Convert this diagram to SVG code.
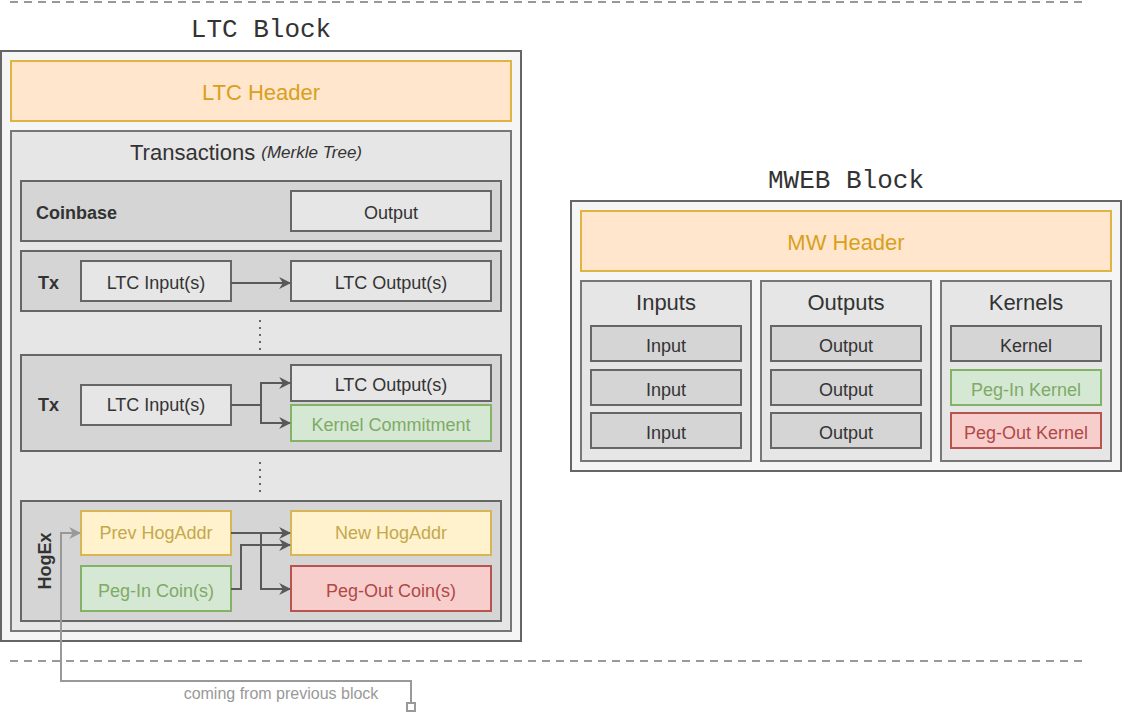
<svg xmlns="http://www.w3.org/2000/svg" width="1122" height="721" viewBox="0 0 1122 721">
<style>
text{font-family:"Liberation Sans",Arial,sans-serif;text-anchor:middle;dominant-baseline:central}
.mono{font-family:"Liberation Mono",monospace;font-size:26px;fill:#333}
.blk{fill:#f5f5f5;stroke:#666;stroke-width:2}
.hdr{fill:#ffe6cc;stroke:#e0b440;stroke-width:2}
.hdrt{fill:#d9a01c;font-size:22px}
.sec{fill:#e6e6e6;stroke:#777;stroke-width:2}
.grp{fill:#d5d5d5;stroke:#666;stroke-width:2}
.box{fill:#e6e6e6;stroke:#666;stroke-width:2}
.gbox{fill:#d5e8d4;stroke:#82b366;stroke-width:2}
.ybox{fill:#fff2cc;stroke:#d6b656;stroke-width:2}
.rbox{fill:#f8cecc;stroke:#b85450;stroke-width:2}
.t{font-size:18px;fill:#333}
.gt{font-size:18px;fill:#7faa66}
.yt{font-size:18px;fill:#c4a84c}
.rt{font-size:18px;fill:#b04848}
.lbl{font-size:18px;font-weight:bold;fill:#333;text-anchor:start}
.c{fill:none;stroke:#595959;stroke-width:2}
.cg{fill:none;stroke:#999;stroke-width:2}
.dash{stroke:#999;stroke-width:2;stroke-dasharray:8 6}
</style>
<defs>
<marker id="a" viewBox="0 0 10 10" refX="9" refY="5" markerWidth="6" markerHeight="6" orient="auto"><path d="M0,0L10,5L0,10L3,5z" fill="#595959"/></marker>
<marker id="ag" viewBox="0 0 10 10" refX="9" refY="5" markerWidth="6" markerHeight="6" orient="auto"><path d="M0,0L10,5L0,10L3,5z" fill="#999"/></marker>
</defs>
<line class="dash" x1="10" y1="2" x2="1082" y2="2"/>
<line class="dash" x1="10" y1="661" x2="1082" y2="661"/>
<g id="ltc-block">
<text class="mono" x="261" y="30">LTC Block</text>
<rect class="blk" x="1" y="51" width="520" height="590"/>
</g>
<g id="ltc-header"><rect class="hdr" x="11" y="61" width="500" height="60"/><text class="hdrt" x="261" y="92">LTC Header</text></g>
<g id="transactions"><rect class="sec" x="11" y="131" width="500" height="500"/><text x="246" y="152" style="font-size:22px;fill:#333">Transactions <tspan style="font-style:italic;font-size:17px">(Merkle Tree)</tspan></text></g>
<g id="coinbase"><rect class="grp" x="21" y="181" width="480" height="60"/><text class="lbl" x="36" y="213">Coinbase</text></g>
<g id="coinbase-output"><rect class="box" x="291" y="191" width="200" height="40"/><text class="t" x="391" y="213">Output</text></g>
<g id="tx1"><rect class="grp" x="21" y="251" width="480" height="60"/><text class="lbl" x="38" y="283">Tx</text></g>
<g id="tx1-in"><rect class="box" x="81" y="261" width="150" height="40"/><text class="t" x="156" y="283">LTC Input(s)</text></g>
<g id="tx1-out"><rect class="box" x="291" y="261" width="200" height="40"/><text class="t" x="391" y="283">LTC Output(s)</text></g>
<g id="dots1"><line x1="260" y1="320" x2="260" y2="350" stroke="#666" stroke-width="2" stroke-dasharray="2 5"/></g>
<g id="tx2"><rect class="grp" x="21" y="355" width="480" height="96"/><text class="lbl" x="38" y="405">Tx</text></g>
<g id="tx2-in"><rect class="box" x="81" y="385" width="150" height="40"/><text class="t" x="156" y="405">LTC Input(s)</text></g>
<g id="tx2-out"><rect class="box" x="291" y="365" width="200" height="36"/><text class="t" x="391" y="385">LTC Output(s)</text></g>
<g id="kernel-commitment"><rect class="gbox" x="291" y="405" width="200" height="36"/><text class="gt" x="391" y="425">Kernel Commitment</text></g>
<g id="dots2"><line x1="260" y1="462" x2="260" y2="492" stroke="#666" stroke-width="2" stroke-dasharray="2 5"/></g>
<g id="hogex"><rect class="grp" x="21" y="501" width="480" height="120"/><text class="lbl" x="0" y="0" transform="translate(45,561) rotate(-90)" style="text-anchor:middle">HogEx</text></g>
<g id="prev-hogaddr"><rect class="ybox" x="81" y="511" width="150" height="44"/><text class="yt" x="156" y="533">Prev HogAddr</text></g>
<g id="pegin"><rect class="gbox" x="81" y="566" width="150" height="45"/><text class="gt" x="156" y="591">Peg-In Coin(s)</text></g>
<g id="new-hogaddr"><rect class="ybox" x="291" y="511" width="200" height="44"/><text class="yt" x="391" y="533">New HogAddr</text></g>
<g id="pegout"><rect class="rbox" x="291" y="566" width="200" height="45"/><text class="rt" x="391" y="591">Peg-Out Coin(s)</text></g>
<g id="connectors">
<path class="c" d="M231,283H290" marker-end="url(#a)"/>
<path class="c" d="M231,405H261V383H290" marker-end="url(#a)"/>
<path class="c" d="M261,405V423H290" marker-end="url(#a)"/>
<path class="c" d="M231,533H290" marker-end="url(#a)"/>
<path class="c" d="M261,533V589H290" marker-end="url(#a)"/>
<path class="c" d="M231,589H241V545H290" marker-end="url(#a)"/>
<path class="cg" d="M411,703V681H61V533H80" marker-end="url(#ag)"/>
<rect x="407" y="703" width="8" height="8" fill="#fff" stroke="#999" stroke-width="2"/>
</g>
<text x="281" y="693" style="font-size:16px;fill:#999">coming from previous block</text>
<g id="mweb-block"><text class="mono" x="846" y="181">MWEB Block</text><rect class="blk" x="571" y="201" width="550" height="270"/></g>
<g id="mw-header"><rect class="hdr" x="581" y="211" width="530" height="60"/><text class="hdrt" x="846" y="242">MW Header</text></g>
<g id="inputs"><rect class="sec" x="581" y="281" width="170" height="180"/><text x="666" y="302" style="font-size:22px;fill:#333">Inputs</text>
<rect class="grp" x="591" y="326" width="150" height="35"/><text class="t" x="666" y="346">Input</text>
<rect class="grp" x="591" y="370" width="150" height="35"/><text class="t" x="666" y="390">Input</text>
<rect class="grp" x="591" y="413" width="150" height="35"/><text class="t" x="666" y="433">Input</text></g>
<g id="outputs"><rect class="sec" x="761" y="281" width="170" height="180"/><text x="846" y="302" style="font-size:22px;fill:#333">Outputs</text>
<rect class="grp" x="771" y="326" width="150" height="35"/><text class="t" x="846" y="346">Output</text>
<rect class="grp" x="771" y="370" width="150" height="35"/><text class="t" x="846" y="390">Output</text>
<rect class="grp" x="771" y="413" width="150" height="35"/><text class="t" x="846" y="433">Output</text></g>
<g id="kernels"><rect class="sec" x="941" y="281" width="170" height="180"/><text x="1026" y="302" style="font-size:22px;fill:#333">Kernels</text>
<rect class="grp" x="951" y="326" width="150" height="35"/><text class="t" x="1026" y="346">Kernel</text>
<rect class="gbox" x="951" y="370" width="150" height="35"/><text class="gt" x="1026" y="390">Peg-In Kernel</text>
<rect class="rbox" x="951" y="413" width="150" height="35"/><text class="rt" x="1026" y="433">Peg-Out Kernel</text></g>
</svg>
